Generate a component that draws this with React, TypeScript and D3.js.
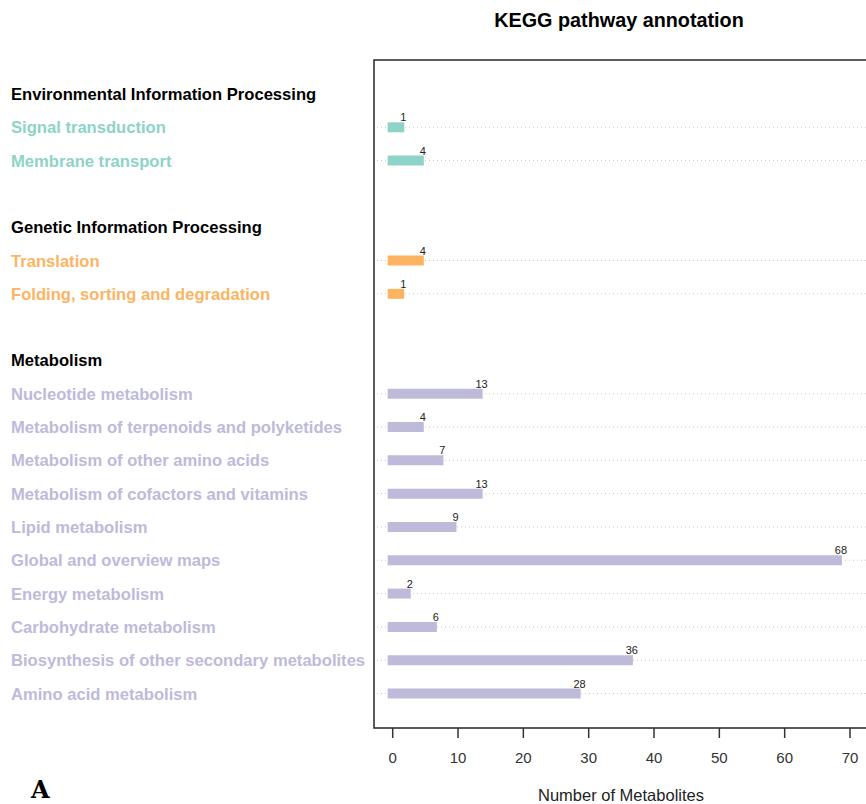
import { useEffect, useRef } from 'react';
import * as d3 from 'd3';

const groups = ['Environmental Information Processing', 'Genetic Information Processing', 'Metabolism'];
const groupColors = ['#8dd3c7', '#fdb462', '#bebada'];

const envPathways = ['Signal transduction', 'Membrane transport'];
const envCounts = [1, 4];
const genPathways = ['Translation', 'Folding, sorting and degradation'];
const genCounts = [4, 1];
const metPathways = [
  'Nucleotide metabolism',
  'Metabolism of terpenoids and polyketides',
  'Metabolism of other amino acids',
  'Metabolism of cofactors and vitamins',
  'Lipid metabolism',
  'Global and overview maps',
  'Energy metabolism',
  'Carbohydrate metabolism',
  'Biosynthesis of other secondary metabolites',
  'Amino acid metabolism',
];
const metCounts = [13, 4, 7, 13, 9, 68, 2, 6, 36, 28];
const xTicks = [0, 10, 20, 30, 40, 50, 60, 70];

type Row = { label: string; value?: number; group: number; header: boolean; slot: number };

const App = () => {
  const svgRef = useRef<SVGSVGElement>(null!);

  useEffect(() => {
    const width = 866;
    const height = 804;
    const font = '"Liberation Sans", Arial, Helvetica, sans-serif';

    // build the row list: header, pathways, blank gap
    const rows: Row[] = [];
    const lists = [
      [envPathways, envCounts],
      [genPathways, genCounts],
      [metPathways, metCounts],
    ] as [string[], number[]][];
    let slot = 0;
    lists.forEach(([names, counts], g) => {
      rows.push({ label: groups[g], group: g, header: true, slot: slot++ });
      names.forEach((n, i) => rows.push({ label: n, value: counts[i], group: g, header: false, slot: slot++ }));
      slot++;
    });

    const x = d3.scaleLinear().domain([0, 70]).range([392.7, 850]);
    const y = d3.scaleLinear().domain([0, 18]).range([94, 693.5]);

    const svg = d3.select(svgRef.current).attr('width', width).attr('height', height);
    svg.selectAll('*').remove();

    svg
      .append('text')
      .attr('x', 619)
      .attr('y', 27)
      .attr('text-anchor', 'middle')
      .attr('font-family', font)
      .attr('font-weight', 'bold')
      .attr('font-size', 19.8)
      .text('KEGG pathway annotation');

    // plot frame
    svg
      .append('rect')
      .attr('x', 374)
      .attr('y', 60)
      .attr('width', 600)
      .attr('height', 668)
      .attr('fill', 'none')
      .attr('stroke', '#333')
      .attr('stroke-width', 1.6);

    const bars = rows.filter(r => !r.header);

    svg
      .append('g')
      .selectAll('line')
      .data(bars)
      .enter()
      .append('line')
      .attr('x1', 377)
      .attr('x2', 866)
      .attr('y1', d => y(d.slot))
      .attr('y2', d => y(d.slot))
      .attr('stroke', '#c8c8c8')
      .attr('stroke-width', 1)
      .attr('stroke-dasharray', '1,3');

    svg
      .append('g')
      .selectAll('line')
      .data(bars)
      .enter()
      .append('line')
      .attr('x1', x(0))
      .attr('x2', d => x(d.value ?? 0))
      .attr('y1', d => y(d.slot))
      .attr('y2', d => y(d.slot))
      .attr('stroke', d => groupColors[d.group])
      .attr('stroke-width', 10)
      .attr('stroke-linecap', 'square');

    svg
      .append('g')
      .selectAll('text')
      .data(bars)
      .enter()
      .append('text')
      .attr('x', d => x(d.value ?? 0) + 4)
      .attr('y', d => y(d.slot) - 6)
      .attr('text-anchor', 'middle')
      .attr('font-family', font)
      .attr('font-size', 11)
      .attr('fill', '#222')
      .text(d => String(d.value));

    // left labels
    svg
      .append('g')
      .selectAll('text')
      .data(rows)
      .enter()
      .append('text')
      .attr('x', 11)
      .attr('y', d => y(d.slot) + 6)
      .attr('font-family', font)
      .attr('font-weight', 'bold')
      .attr('font-size', 16.6)
      .attr('fill', d => (d.header ? '#000' : groupColors[d.group]))
      .text(d => d.label);

    // x axis
    const axis = svg.append('g');
    axis
      .selectAll('line')
      .data(xTicks)
      .enter()
      .append('line')
      .attr('x1', d => x(d))
      .attr('x2', d => x(d))
      .attr('y1', 728)
      .attr('y2', 738)
      .attr('stroke', '#333')
      .attr('stroke-width', 1.5);
    axis
      .selectAll('text')
      .data(xTicks)
      .enter()
      .append('text')
      .attr('x', d => x(d))
      .attr('y', 763)
      .attr('text-anchor', 'middle')
      .attr('font-family', font)
      .attr('font-size', 15)
      .attr('fill', '#333')
      .text(d => d);

    svg
      .append('text')
      .attr('x', 621)
      .attr('y', 801)
      .attr('text-anchor', 'middle')
      .attr('font-family', font)
      .attr('font-size', 16.5)
      .attr('fill', '#222')
      .text('Number of Metabolites');

    svg
      .append('text')
      .attr('x', 31)
      .attr('y', 798)
      .attr('font-family', '"DejaVu Serif", "Liberation Serif", serif')
      .attr('font-weight', 'bold')
      .attr('font-size', 24)
      .text('A');
  }, []);

  return <svg ref={svgRef} style={{ position: 'absolute', left: 0, top: 0, background: '#fff' }}></svg>;
};

export default App;
